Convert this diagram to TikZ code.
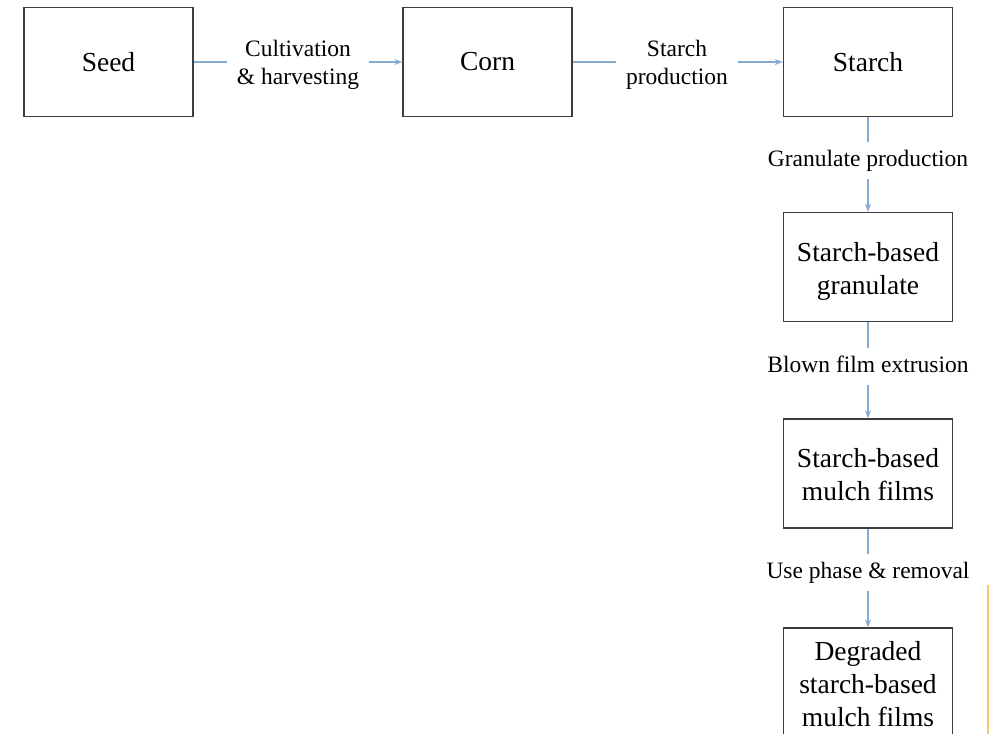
\documentclass[tikz,border=0pt]{standalone}
\usepackage{fontspec}
\setmainfont{Liberation Serif}
\usetikzlibrary{arrows.meta}
\definecolor{flowblue}{RGB}{135,170,210}
\definecolor{boxgray}{RGB}{60,60,60}
\definecolor{edgeorange}{RGB}{250,200,110}
% stacked box text, set a little below the optical centre
\newcommand{\boxlines}[1]{\raisebox{-4pt}[\height][\depth]{\begin{tabular}{@{}c@{}}#1\end{tabular}}}
\tikzset{
  stagebox/.style={draw=boxgray, line width=1.3pt, fill=white,
    minimum width=169pt, minimum height=109pt, align=center,
    font=\fontsize{27.5pt}{33pt}\selectfont, inner sep=0pt},
  steplabel/.style={align=center, font=\fontsize{23.5pt}{28pt}\selectfont, inner sep=10pt},
  oneline/.style={steplabel, inner ysep=7pt, text height=17pt, text depth=6pt},
  flow/.style={draw=flowblue, line width=1.2pt},
  flowarrow/.style={flow, -{Stealth[length=8pt,width=6pt]}}
}
\begin{document}
\begin{tikzpicture}[x=1pt,y=-1pt]
  \useasboundingbox (0,0) rectangle (989,734);
  % process stages
  \node[stagebox] (seed) at (108.5,62) {Seed};
  \node[stagebox] (corn) at (487.5,62) {Corn};
  \node[stagebox] (starch) at (868,62) {Starch};
  \node[stagebox] (gran) at (868,267) {\boxlines{Starch-based\\granulate}};
  \node[stagebox] (mulch) at (868,473.5) {\boxlines{Starch-based\\mulch films}};
  \node[stagebox] (degr) at (868,682.5) {\boxlines{Degraded\\starch-based\\mulch films}};
  % step labels
  \node[steplabel] (l1) at (298,64.5) {Cultivation\\\& harvesting};
  \node[steplabel] (l2) at (677,64.5) {Starch\\production};
  \node[oneline] (l3) at (868,160.5) {Granulate production};
  \node[oneline] (l4) at (868,366.5) {Blown film extrusion};
  \node[oneline] (l5) at (868,572.5) {Use phase \& removal};
  % connectors, broken around their labels
  \draw[flow] (seed.east) -- (seed.east -| l1.west);
  \draw[flowarrow] (corn.west -| l1.east) -- (corn.west);
  \draw[flow] (corn.east) -- (corn.east -| l2.west);
  \draw[flowarrow] (starch.west -| l2.east) -- (starch.west);
  \draw[flow] (starch.south) -- (starch.south |- l3.north);
  \draw[flowarrow] (gran.north |- l3.south) -- (gran.north);
  \draw[flow] (gran.south) -- (gran.south |- l4.north);
  \draw[flowarrow] (mulch.north |- l4.south) -- (mulch.north);
  \draw[flow] (mulch.south) -- (mulch.south |- l5.north);
  \draw[flowarrow] (degr.north |- l5.south) -- (degr.north);
  % edge strip at the right border
  \coordinate (stripTop) at (988,585);
  \coordinate (stripBot) at (988,734);
  \draw[edgeorange, line width=1.5pt] (stripTop) -- (stripBot);
\end{tikzpicture}
\end{document}
